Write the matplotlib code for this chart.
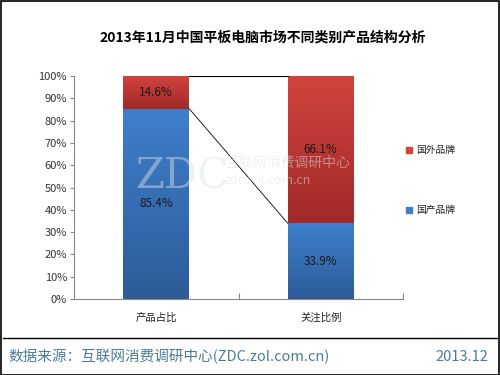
import matplotlib
matplotlib.use("Agg")
import matplotlib.pyplot as plt
import numpy as np
from matplotlib.colors import LinearSegmentedColormap
from matplotlib.patches import Rectangle

plt.rcParams["font.family"] = ["Noto Sans CJK SC", "DejaVu Sans"]

# data
categories = ["产品占比", "关注比例"]
domestic = [85.4, 33.9]   # 国产品牌
foreign = [14.6, 66.1]    # 国外品牌
series_names = ["国外品牌", "国产品牌"]
yticks = list(range(0, 101, 10))

RED_TOP, RED_BOT = "#d2433d", "#a02a27"
BLUE_TOP, BLUE_BOT = "#3f7fcc", "#2d5b98"
BAR_W = 0.4


def gradient_fill(ax, patch, top, bottom):
    x0, y0 = patch.get_x(), patch.get_y()
    w, h = patch.get_width(), patch.get_height()
    cmap = LinearSegmentedColormap.from_list("g", [bottom, top])
    grad = np.linspace(0, 1, 256).reshape(-1, 1)
    im = ax.imshow(grad, cmap=cmap, origin="lower", aspect="auto",
                   extent=(x0, x0 + w, y0, y0 + h), zorder=2)
    im.set_clip_path(patch)


fig = plt.figure(figsize=(5, 3.75), dpi=100)
ax = fig.add_axes([0.148, 0.203, 0.658, 0.594])

x = np.arange(len(categories))
b_dom = ax.bar(x, domestic, BAR_W, color=BLUE_TOP, zorder=1)
b_for = ax.bar(x, foreign, BAR_W, bottom=domestic, color=RED_TOP, zorder=1)
for p in b_dom:
    gradient_fill(ax, p, BLUE_TOP, BLUE_BOT)
for p in b_for:
    gradient_fill(ax, p, RED_TOP, RED_BOT)

# series lines between the two bars
x_left = x[0] + BAR_W / 2
x_right = x[1] - BAR_W / 2
tops = [d + f for d, f in zip(domestic, foreign)]
ax.plot([x_left, x_right], [tops[0], tops[1]], color="black", lw=0.8, zorder=3)
ax.plot([x_left, x_right], [domestic[0], domestic[1]], color="black", lw=0.6, zorder=3)

for i in range(len(categories)):
    ax.text(x[i], domestic[i] / 2, f"{domestic[i]:.1f}%", ha="center", va="center",
            fontsize=8.5, color="#1a1a1a", zorder=4)
    ax.text(x[i], domestic[i] + foreign[i] / 2, f"{foreign[i]:.1f}%", ha="center",
            va="center", fontsize=8.5, color="#1a1a1a", zorder=4)

ax.set_xlim(-0.5, 1.5)
ax.set_ylim(0, 100)
ax.set_yticks(yticks)
ax.set_yticklabels([f"{v}%" for v in yticks], fontsize=8, color="#333333")
ax.set_xticks([-0.5, 0.5, 1.5])
ax.set_xticklabels([])
ax.set_xticks(x, minor=True)
ax.set_xticklabels(categories, minor=True, fontsize=7.5, color="#222222")
ax.tick_params(axis="x", which="minor", length=0, pad=10)
ax.tick_params(axis="x", which="major", length=4, direction="in", color="#888888")
ax.tick_params(axis="y", length=3, color="#888888", pad=2)
for side in ["top", "right"]:
    ax.spines[side].set_visible(False)
for side in ["left", "bottom"]:
    ax.spines[side].set_color("#888888")
    ax.spines[side].set_linewidth(0.8)

# legend
fig.patches.append(Rectangle((0.811, 0.592), 0.013, 0.017, transform=fig.transFigure,
                             color=RED_TOP, figure=fig))
fig.text(0.832, 0.600, series_names[0], fontsize=7, va="center", color="#222222")
fig.patches.append(Rectangle((0.811, 0.432), 0.013, 0.017, transform=fig.transFigure,
                             color=BLUE_TOP, figure=fig))
fig.text(0.832, 0.440, series_names[1], fontsize=7, va="center", color="#222222")

# watermark
fig.text(0.27, 0.53, "ZDC", fontsize=30, family="DejaVu Serif", color="#dde3ea",
         alpha=0.45, va="center", zorder=5)
fig.text(0.45, 0.565, "互联网消费调研中心", fontsize=10, color="#dde3ea", alpha=0.5,
         va="center", zorder=5)
fig.text(0.45, 0.52, "zdc.zol.com.cn", fontsize=9, color="#dde3ea", alpha=0.5,
         va="center", zorder=5)

# title
fig.text(0.525, 0.90, "2013年11月中国平板电脑市场不同类别产品结构分析", ha="center",
         va="center", fontsize=10, fontweight="bold", color="black")

# footer
fig.add_artist(plt.Line2D([0.006, 0.994], [0.099, 0.099], transform=fig.transFigure,
                          color="black", lw=1))
fig.text(0.016, 0.048, "数据来源：互联网消费调研中心(ZDC.zol.com.cn)", fontsize=10.5,
         fontweight="light", va="center", color="#4a7c96")
fig.text(0.976, 0.048, "2013.12", fontsize=10.5, fontweight="light", va="center",
         ha="right", color="#4a7c96")

# border
fig.patches.append(Rectangle((0.001, 0.001), 0.997, 0.997, transform=fig.transFigure,
                             fill=False, edgecolor="black", lw=1.2, figure=fig))

fig.savefig("out.png", dpi=100)
